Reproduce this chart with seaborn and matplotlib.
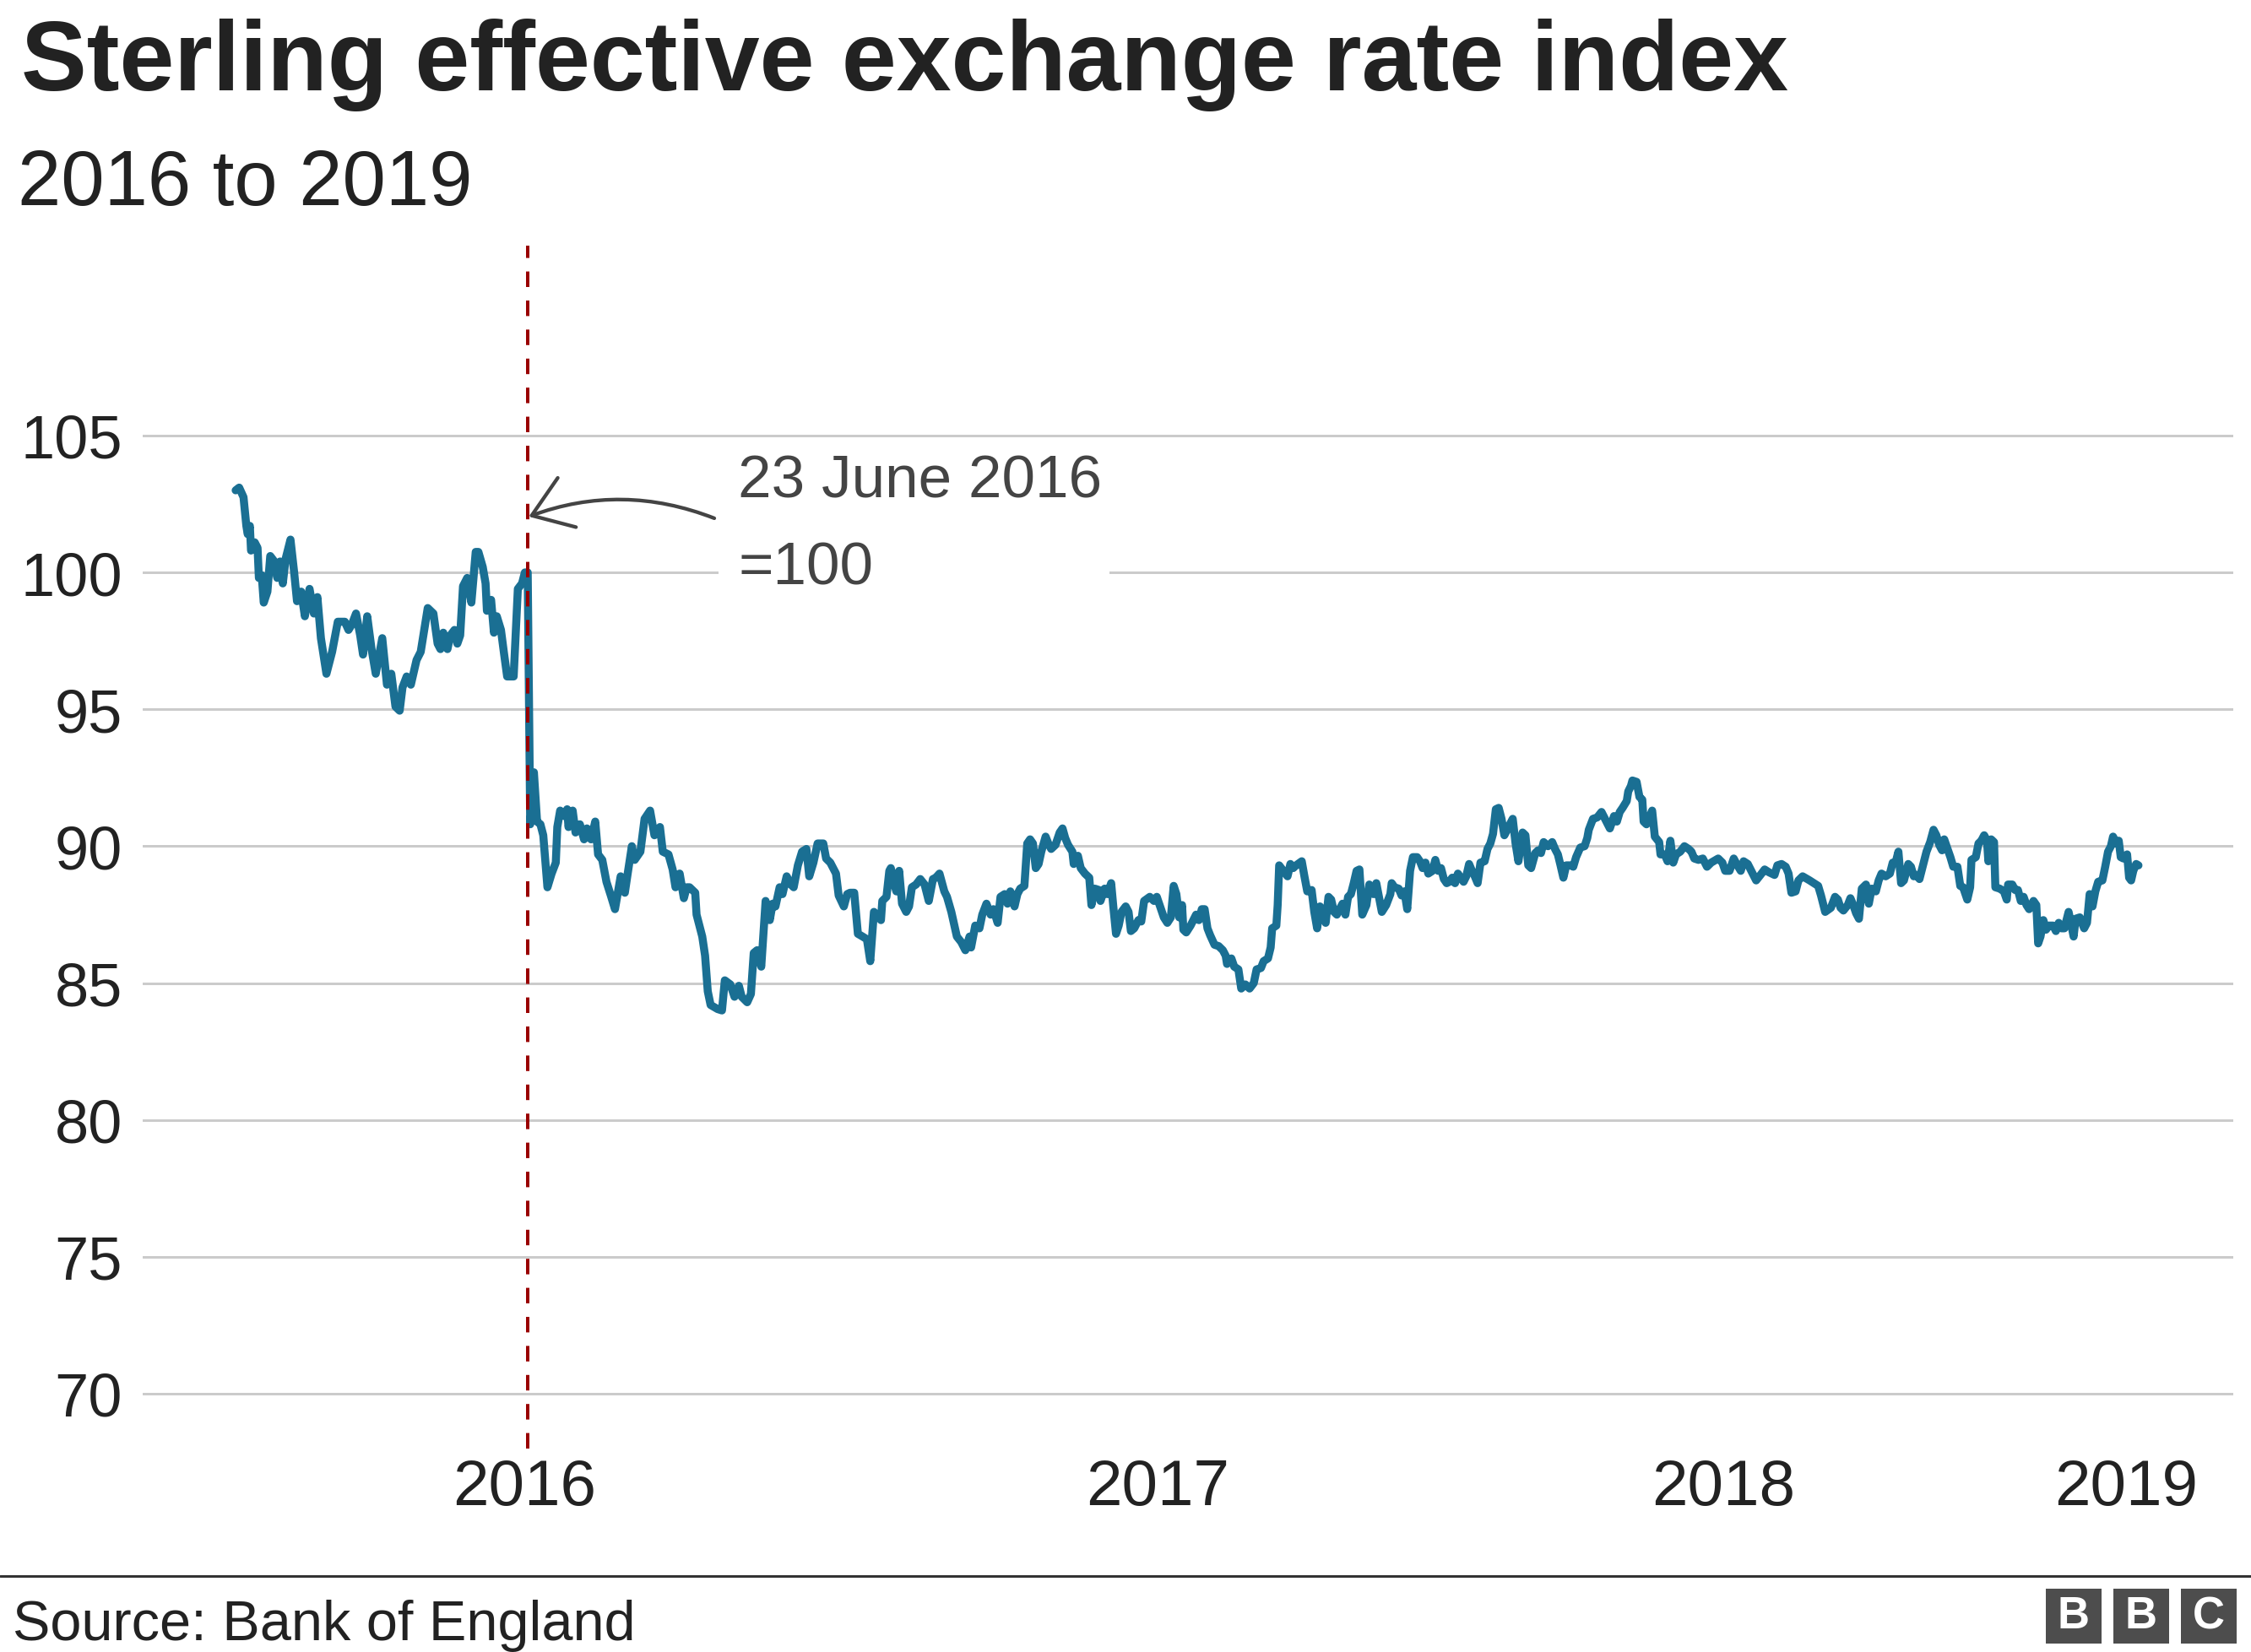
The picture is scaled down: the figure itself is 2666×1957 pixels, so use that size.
import numpy as np
import pandas as pd
import matplotlib
matplotlib.use("Agg")
import matplotlib.pyplot as plt
from matplotlib.patches import Rectangle
from matplotlib.lines import Line2D
import seaborn as sns

# ---------------- data (days since 2016-01-01, index 23 June 2016 = 100) -------------
days_pre_vote = [-0.7, 1.4, 4.0, 5.7, 6.5, 7.8, 8.5, 10.7, 12.4, 13.2, 14.9, 16.1, 18.3, 20.0,
                 22.5, 24.2, 25.9, 27.5, 29.2, 32.1, 34.3, 36.0, 38.5, 40.7, 43.5, 46.1, 48.2,
                 50.3, 53.6, 57.0, 60.4, 64.6, 66.8, 68.8, 71.3, 73.8, 75.5, 78.0, 80.6, 83.1,
                 87.0, 89.8, 92.4, 94.9, 97.4, 99.1, 101.6, 104.1, 107.5, 110.0, 114.2, 117.6,
                 120.1, 121.8, 123.5, 126.0, 127.7, 130.2, 131.9, 133.6, 135.3, 137.8, 140.3,
                 142.9, 144.5, 147.1, 148.8, 149.6, 152.1, 153.8, 155.5, 158.0, 159.7, 161.7,
                 165.6, 168.1, 170.6, 172.3, 174.0]
index_pre_vote = [103.0, 103.1, 102.75, 101.7, 101.4, 101.7, 100.8, 101.1, 100.9, 99.8, 99.9,
                  98.9, 99.3, 100.6, 100.4, 99.8, 100.4, 99.6, 100.5, 101.2, 100.0, 98.95, 99.3,
                  98.4, 99.4, 98.5, 99.1, 97.6, 96.3, 97.1, 98.2, 98.2, 97.9, 98.1, 98.5, 97.7,
                  97.0, 98.4, 97.2, 96.3, 97.6, 95.9, 96.3, 95.1, 94.95, 95.8, 96.2, 95.9, 96.8,
                  97.1, 98.7, 98.5, 97.4, 97.2, 97.8, 97.2, 97.7, 97.9, 97.4, 97.7, 99.5, 99.8,
                  98.9, 100.75, 100.75, 100.2, 99.6, 98.6, 99.0, 97.8, 98.4, 97.9, 97.1, 96.2,
                  96.2, 99.4, 99.6, 100.0, 100.0]

days_2016h2 = [175.5, 177.7, 179.6, 181.6, 183.3, 185.8, 188.3, 190.8, 191.7, 193.4, 195.9,
               197.6, 198.4, 200.9, 202.6, 205.2, 207.7, 209.4, 211.9, 214.4, 216.1, 218.6,
               221.1, 223.7, 226.2, 229.6, 232.1, 233.8, 236.3, 238.0, 241.4, 243.9, 247.2,
               249.8, 253.1, 254.8, 258.2, 260.7, 262.4, 264.9, 267.4, 269.1, 270.8, 274.2,
               275.0, 278.4, 280.1, 281.7, 283.4, 287.6, 290.2, 291.9, 295.2, 297.7, 300.3,
               302.0, 305.3, 307.5, 309.2, 311.2, 313.7, 316.3, 318.8, 320.5, 322.2, 324.7,
               326.4, 328.9, 331.4, 333.1, 335.6, 338.1, 340.7, 342.4, 344.9, 347.4, 350.8,
               352.5, 355.0, 356.7, 358.4, 360.0, 363.1, 365.1, 366.8, 369.3, 371.5, 374.3,
               376.9, 378.9, 381.1]
index_2016h2 = [90.8, 92.7, 90.9, 90.8, 90.4, 88.5, 89.0, 89.4, 90.7, 91.3, 91.1, 91.35, 90.7,
                91.3, 90.5, 90.8, 90.25, 90.65, 90.25, 90.9, 89.7, 89.5, 88.7, 88.2, 87.7, 88.9,
                88.3, 89.0, 90.0, 89.5, 89.8, 91.0, 91.3, 90.4, 90.7, 89.8, 89.7, 89.15, 88.5,
                89.0, 88.1, 88.5, 88.5, 88.3, 87.5, 86.7, 86.0, 84.7, 84.2, 84.05, 84.0, 85.1,
                84.95, 84.5, 84.9, 84.5, 84.3, 84.6, 86.1, 86.2, 85.6, 88.0, 87.3, 87.9, 87.8,
                88.5, 88.25, 88.9, 88.6, 88.5, 89.3, 89.8, 89.9, 88.9, 89.4, 90.1, 90.1, 89.55,
                89.4, 89.2, 89.0, 88.2, 87.8, 88.25, 88.3, 88.3, 86.8, 86.7, 86.6, 85.8, 87.6]

days_2017h1 = [382.7, 385.3, 386.1, 388.6, 390.3, 391.2, 392.9, 394.5, 396.2, 397.9, 400.4,
               402.1, 403.8, 406.3, 408.8, 411.4, 413.9, 416.4, 418.1, 420.3, 423.2, 424.8,
               427.4, 430.7, 433.3, 435.8, 438.3, 439.2, 441.7, 444.2, 445.9, 448.4, 450.9,
               452.6, 455.1, 456.8, 459.3, 461.0, 462.7, 465.2, 466.9, 468.6, 471.1, 472.8,
               474.5, 476.2, 477.9, 479.6, 481.2, 483.8, 485.4, 487.1, 489.7, 492.2, 493.9,
               495.5, 497.2, 499.8, 500.6, 503.1, 504.8, 507.3, 509.9, 511.2, 513.2, 515.7,
               516.6, 519.1, 520.8, 523.0, 524.2, 525.9, 527.5, 529.2, 531.7, 533.4, 534.8,
               536.8, 539.3, 541.0, 542.7, 546.1, 548.6, 550.3, 552.8, 554.5, 556.6, 558.7,
               560.4, 562.0, 563.7, 565.4, 566.2, 567.9, 570.5]
index_2017h1 = [87.5, 87.3, 88.0, 88.15, 89.1, 89.2, 88.7, 88.35, 89.1, 87.9, 87.6, 87.8, 88.5,
                88.6, 88.8, 88.6, 88.0, 88.8, 88.85, 89.0, 88.35, 88.15, 87.6, 86.7, 86.5, 86.2,
                86.7, 86.3, 87.1, 87.0, 87.5, 87.9, 87.5, 87.7, 87.2, 88.15, 88.25, 87.9, 88.35,
                87.8, 88.25, 88.45, 88.55, 90.1, 90.25, 90.1, 89.2, 89.35, 89.8, 90.35, 90.1,
                89.9, 90.05, 90.5, 90.65, 90.3, 90.05, 89.8, 89.35, 89.65, 89.2, 89.0, 88.85,
                87.85, 88.45, 88.4, 88.0, 88.45, 88.25, 88.65, 87.85, 86.8, 87.1, 87.6, 87.8,
                87.6, 86.9, 87.0, 87.3, 87.25, 88.0, 88.15, 88.0, 88.15, 87.7, 87.4, 87.2, 87.4,
                88.55, 88.25, 87.4, 87.85, 86.95, 86.85, 87.1]

days_2017h2 = [573.8, 575.5, 577.2, 578.9, 580.6, 582.2, 584.8, 587.3, 589.8, 591.5, 592.3,
               594.9, 596.6, 599.1, 600.8, 603.3, 605.8, 608.3, 610.0, 612.6, 614.2, 616.8,
               618.4, 619.3, 621.8, 622.6, 623.5, 626.0, 628.5, 630.2, 631.9, 633.6, 637.0,
               638.6, 640.3, 642.9, 644.5, 646.2, 647.9, 649.6, 651.3, 653.0, 654.6, 656.3,
               658.0, 659.7, 661.4, 663.1, 664.7, 666.4, 668.1, 669.8, 671.5, 673.2, 675.7,
               677.4, 679.9, 681.6, 683.3, 684.9, 687.5, 690.0, 690.8, 692.5, 695.0, 696.7,
               698.4, 700.1, 701.8, 703.5, 706.0, 707.7, 709.3, 711.0, 712.7, 715.2, 716.9,
               718.6, 720.3, 722.0, 723.7, 725.3, 727.0, 728.7, 730.4, 732.1, 733.8, 735.4,
               737.1, 738.8, 740.5, 742.2, 743.9, 746.4, 748.1, 749.8, 751.4, 753.1, 754.8,
               756.5, 758.2, 759.9, 761.5, 763.2, 764.9, 766.6]
index_2017h2 = [87.5, 87.3, 87.7, 87.7, 87.0, 86.75, 86.4, 86.35, 86.2, 86.0, 85.7, 85.9, 85.6,
                85.5, 84.8, 84.95, 84.8, 85.0, 85.5, 85.55, 85.8, 85.9, 86.3, 87.0, 87.1, 87.85,
                89.3, 89.1, 88.9, 89.35, 89.2, 89.3, 89.45, 88.9, 88.35, 88.4, 87.6, 87.0, 87.8,
                87.6, 87.2, 88.15, 88.05, 87.6, 87.5, 87.7, 87.9, 87.5, 88.15, 88.25, 88.65,
                89.1, 89.15, 87.5, 87.85, 88.6, 88.25, 88.65, 88.1, 87.6, 87.85, 88.25, 88.65,
                88.5, 88.45, 88.2, 88.35, 87.7, 89.1, 89.6, 89.6, 89.45, 89.2, 89.4, 89.0, 89.1,
                89.5, 89.1, 89.2, 88.8, 88.65, 88.7, 88.85, 88.65, 89.0, 88.85, 88.7, 88.9,
                89.35, 89.1, 88.9, 88.65, 89.4, 89.45, 89.9, 90.1, 90.45, 91.35, 91.4, 91.0,
                90.4, 90.6, 90.8, 91.0, 90.1, 89.45]

days_2018h1 = [769.1, 770.8, 772.5, 774.2, 776.7, 778.4, 780.1, 781.7, 784.3, 786.8, 788.5,
               790.2, 791.8, 793.5, 795.2, 797.7, 799.4, 801.1, 803.6, 806.2, 807.8, 808.7,
               811.2, 813.7, 816.3, 818.8, 821.3, 823.8, 825.5, 827.2, 828.9, 831.4, 832.3,
               833.9, 834.8, 837.3, 839.0, 840.7, 841.5, 843.2, 844.9, 846.6, 848.2, 850.8,
               851.6, 854.1, 855.8, 857.5, 859.2, 860.9, 863.4, 865.9, 868.4, 870.1, 871.8,
               874.3, 876.9, 879.4, 881.9, 886.1, 888.6, 890.3, 892.9, 895.4, 897.1, 899.6,
               901.3, 903.8, 906.3, 908.8, 911.4, 913.9, 916.4, 919.8, 921.5, 924.0, 926.5,
               928.2, 929.9, 932.4, 934.1, 936.6, 940.8, 943.4, 945.9, 947.6, 950.1]
index_2018h1 = [90.5, 90.4, 89.3, 89.2, 89.75, 89.85, 89.75, 90.15, 90.0, 90.15, 89.9, 89.7,
                89.3, 88.85, 89.3, 89.3, 89.25, 89.6, 89.95, 90.0, 90.3, 90.6, 91.0, 91.05,
                91.25, 90.95, 90.65, 91.1, 90.9, 91.25, 91.4, 91.65, 92.0, 92.2, 92.4, 92.35,
                91.8, 91.7, 90.9, 90.8, 91.05, 91.3, 90.35, 90.15, 89.7, 89.7, 89.45, 90.2,
                89.4, 89.7, 89.8, 90.0, 89.9, 89.8, 89.55, 89.5, 89.55, 89.25, 89.4, 89.55,
                89.4, 89.1, 89.1, 89.55, 89.35, 89.1, 89.45, 89.35, 89.05, 88.75, 88.95, 89.15,
                89.05, 88.95, 89.3, 89.35, 89.25, 89.0, 88.3, 88.35, 88.75, 88.9, 88.75, 88.65,
                88.55, 88.2, 87.6]

days_2018h2 = [953.5, 956.0, 957.7, 959.3, 961.0, 963.6, 965.2, 966.9, 968.6, 970.3, 972.0,
               974.5, 976.2, 977.9, 980.4, 982.1, 983.8, 986.3, 988.8, 990.5, 992.2, 993.9,
               995.5, 997.2, 999.8, 1001.4, 1003.1, 1004.8, 1006.5, 1008.2, 1010.7, 1012.9,
               1014.9, 1016.6, 1018.3, 1020.0, 1021.3, 1023.3, 1025.0, 1026.7, 1029.2, 1030.9,
               1032.6, 1035.1, 1036.8, 1037.6, 1040.2, 1041.8, 1043.5, 1045.2, 1046.9, 1047.7,
               1049.4, 1051.1, 1051.9, 1054.5, 1057.0, 1058.7, 1059.5, 1062.0, 1063.7, 1065.4,
               1067.1, 1068.8, 1070.5, 1072.1, 1074.7, 1076.4, 1077.5, 1078.9, 1080.6, 1082.2,
               1083.9, 1086.5, 1088.1, 1089.8, 1091.5, 1093.2, 1095.7, 1097.4, 1098.7, 1099.9,
               1102.4, 1105.0, 1106.7, 1108.3, 1110.0, 1111.7, 1113.4, 1115.9, 1117.6, 1119.3,
               1121.0, 1122.3, 1124.3, 1125.7, 1126.9, 1128.5, 1130.7, 1131.9, 1133.1, 1134.4,
               1136.1, 1137.5]
index_2018h2 = [87.75, 88.15, 88.05, 87.75, 87.65, 87.85, 88.1, 87.85, 87.55, 87.35, 88.45,
                88.6, 87.9, 88.45, 88.35, 88.75, 89.0, 88.9, 89.0, 89.4, 89.4, 89.8, 88.65,
                88.75, 89.35, 89.25, 88.9, 88.95, 88.8, 89.2, 89.8, 90.15, 90.6, 90.4, 90.05,
                89.85, 90.25, 89.9, 89.6, 89.25, 89.25, 88.55, 88.5, 88.05, 88.5, 89.5, 89.6,
                90.1, 90.2, 90.4, 90.2, 89.45, 90.25, 90.15, 88.5, 88.45, 88.35, 88.05, 88.6,
                88.6, 88.4, 88.4, 88.0, 88.15, 87.85, 87.7, 88.0, 87.85, 86.45, 86.7, 87.3,
                86.95, 87.1, 87.1, 86.9, 87.2, 87.0, 87.0, 87.6, 87.1, 86.7, 87.35, 87.4, 87.0,
                87.2, 88.25, 87.8, 88.35, 88.7, 88.75, 89.25, 89.8, 90.0, 90.35, 90.1, 90.2,
                89.6, 89.55, 89.7, 88.85, 88.75, 89.1, 89.35, 89.3]

y_ticks = [70, 75, 80, 85, 90, 95, 100, 105]
x_tick_dates = ["2016-06-21", "2017-07-05", "2018-06-08", "2019-02-04"]
x_tick_labels = ["2016", "2017", "2018", "2019"]
vote_date = "2016-06-23"
title = "Sterling effective exchange rate index"
subtitle = "2016 to 2019"
note_lines = ["23 June 2016", "=100"]
source = "Source: Bank of England"

segments = [(days_pre_vote, index_pre_vote), (days_2016h2, index_2016h2),
            (days_2017h1, index_2017h1), (days_2017h2, index_2017h2),
            (days_2018h1, index_2018h1), (days_2018h2, index_2018h2)]
for d, v in segments:
    assert len(d) == len(v), (len(d), len(v), d[0])
all_days = np.concatenate([d for d, _ in segments])
all_vals = np.concatenate([v for _, v in segments])
base = pd.Timestamp("2016-01-01")
df = pd.DataFrame({"date": base + pd.to_timedelta(all_days, unit="D"), "index": all_vals})

# ---------------- styling ----------------
W, H, DPI = 2666, 1958, 200
PT = 72.0 / DPI  # points per pixel

sns.set_theme(style="white")
plt.rcParams["font.family"] = ["Liberation Sans", "DejaVu Sans"]

fig = plt.figure(figsize=(W / DPI, H / DPI), dpi=DPI, facecolor="white")
ax_left, ax_right, ax_top, ax_bottom = 169, 2645, 292, 1717
ax = fig.add_axes([ax_left / W, 1 - ax_bottom / H, (ax_right - ax_left) / W, (ax_bottom - ax_top) / H])
ax.set_facecolor("white")


def dnum(d):
    return base + pd.Timedelta(days=d)


sns.lineplot(data=df, x="date", y="index", ax=ax, estimator=None, sort=False,
             color="#1a6f93", linewidth=9.5 * PT, zorder=3)
ln = ax.lines[-1]
ln.set_solid_joinstyle("round")
ln.set_solid_capstyle("round")

# axes ranges: 105 at y=517px, 70 at y=1652px
px_per_unit = (1652 - 517) / 35.0
ax.set_ylim(70 - (ax_bottom - 1652) / px_per_unit, 105 + (517 - ax_top) / px_per_unit)
px_per_day = 1.98
ax.set_xlim(dnum(174 + (ax_left - 625) / px_per_day), dnum(174 + (ax_right - 625) / px_per_day))

ax.set_yticks(y_ticks)
ax.set_yticklabels([str(t) for t in y_ticks])
ax.set_xticks(pd.to_datetime(x_tick_dates))
ax.set_xticklabels(x_tick_labels)
ax.tick_params(axis="y", length=0, pad=24 * PT, labelsize=26, labelcolor="#222222")
ax.tick_params(axis="x", length=0, pad=11 * PT, labelsize=27.5, labelcolor="#222222")
ax.set_xlabel("")
ax.set_ylabel("")
for s in ax.spines.values():
    s.set_visible(False)
ax.grid(False)
ax.yaxis.grid(True, color="#cbcbcb", linewidth=3 * PT)
ax.set_axisbelow(True)

# vertical dashed line at referendum date
ax.axvline(pd.Timestamp(vote_date), color="#990000", linewidth=4 * PT, dashes=(4.6, 4.0), zorder=4)

# white box behind annotation text (interrupts the 100 gridline)
ax.add_patch(Rectangle((dnum(174 + (851 - 625) / px_per_day), 99.0),
                       pd.Timedelta(days=(1314 - 851) / px_per_day), 2.0,
                       facecolor="white", edgecolor="none", zorder=1))

note_day = dnum(174 + (874 - 625) / px_per_day)
ax.text(note_day, 102.75, note_lines[0], fontsize=25.6, color="#444444", ha="left", va="baseline", zorder=5)
ax.text(note_day, 99.6, note_lines[1], fontsize=25.6, color="#444444", ha="left", va="baseline", zorder=5)
ax.annotate("", xy=(dnum(174.6), 102.04), xytext=(dnum(174 + (846 - 625) / px_per_day), 101.98),
            arrowprops=dict(arrowstyle="->,head_length=0.4,head_width=0.28",
                            connectionstyle="arc3,rad=0.19", color="#444444",
                            lw=4.3 * PT, mutation_scale=40, shrinkA=0, shrinkB=0),
            zorder=5)

# titles
fig.text(25 / W, 1 - 107 / H, title, fontsize=42, fontweight="bold", color="#222222",
         ha="left", va="baseline")
fig.text(21 / W, 1 - 243 / H, subtitle, fontsize=33.2, color="#222222", ha="left", va="baseline")

# footer
fig.add_artist(Line2D([0, 1], [1 - 1868 / H, 1 - 1868 / H], transform=fig.transFigure,
                      color="#333333", linewidth=3 * PT))
fig.text(15 / W, 1 - 1943 / H, source, fontsize=24, color="#222222", ha="left", va="baseline")

for x0, letter in zip([2423, 2503, 2583], ["B", "B", "C"]):
    fig.add_artist(Rectangle((x0 / W, 1 - 1948 / H), 66 / W, 65 / H, transform=fig.transFigure,
                             facecolor="#4d4d4d", edgecolor="none"))
    fig.text((x0 + 33) / W, 1 - 1915.5 / H, letter, fontsize=19, fontweight="bold",
             color="white", ha="center", va="center")

fig.savefig("out.png", dpi=DPI, facecolor="white")
